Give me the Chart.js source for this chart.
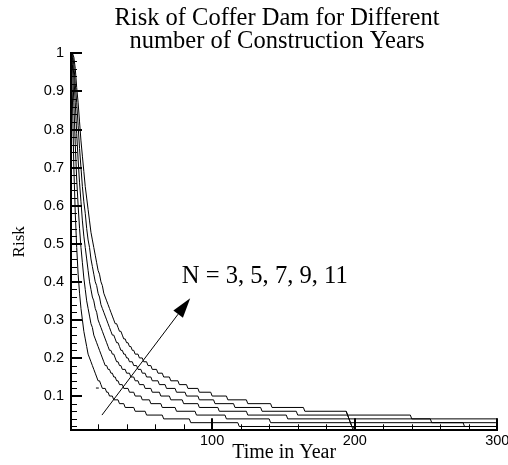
<!DOCTYPE html>
<html>
<head>
<meta charset="utf-8">
<title>Risk of Coffer Dam</title>
<script src="https://cdn.jsdelivr.net/npm/chart.js@4.4.1/dist/chart.umd.min.js"></script>
<style>
  html, body { margin: 0; padding: 0; background: #fff; overflow: hidden; }
  canvas { display: block; }
</style>
</head>
<body>
<canvas id="riskChart" width="554" height="465"></canvas>
<script>
// ====================
// DATA (risk is stepped in 0.01)
// each point = first year of a new risk level
// ====================
const yearsN3 = [1,2,3,4,5,6,7,8,9,10,11,12,13,14,15,16,17,18,19,20,22,23,26,28,31,35,39,46,54,66,85,119,200,300];
const riskN3  = [1,0.88,0.70,0.58,0.49,0.42,0.37,0.33,0.30,0.27,0.25,0.23,0.21,0.20,0.19,0.18,0.17,0.16,0.15,0.14,0.13,0.12,0.11,0.10,0.09,0.08,0.07,0.06,0.05,0.04,0.03,0.02,0.01,0.01];

const yearsN5 = [1,2,3,4,5,6,7,8,9,10,11,12,13,14,15,16,17,18,19,20,21,22,23,24,25,27,29,31,33,35,38,42,46,51,57,65,75,89,110,141,198,300];
const riskN5  = [1,0.97,0.87,0.76,0.67,0.60,0.54,0.49,0.45,0.41,0.38,0.35,0.33,0.31,0.29,0.28,0.26,0.25,0.24,0.23,0.22,0.21,0.20,0.19,0.18,0.17,0.16,0.15,0.14,0.13,0.12,0.11,0.10,0.09,0.08,0.07,0.06,0.05,0.04,0.03,0.02,0.02];

const yearsN7 = [1,2,3,4,5,6,7,8,9,10,11,12,13,14,15,16,17,18,19,20,21,22,23,24,25,26,27,28,30,32,33,35,37,40,43,46,49,53,58,64,71,80,91,105,125,153,197,277,300];
const riskN7  = [1,0.99,0.94,0.87,0.79,0.72,0.66,0.61,0.56,0.52,0.49,0.46,0.43,0.40,0.38,0.36,0.35,0.33,0.32,0.30,0.29,0.28,0.27,0.26,0.25,0.24,0.23,0.22,0.21,0.20,0.19,0.18,0.17,0.16,0.15,0.14,0.13,0.12,0.11,0.10,0.09,0.08,0.07,0.06,0.05,0.04,0.03,0.02,0.02];

const yearsN9 = [1,2,3,4,5,6,7,8,9,10,11,12,13,14,15,16,17,18,19,20,21,22,23,24,25,26,27,28,29,30,32,33,35,36,38,40,42,45,48,51,54,58,63,68,75,82,91,102,116,135,160,196,254,300];
const riskN9  = [1,1,0.97,0.92,0.87,0.81,0.75,0.70,0.65,0.61,0.58,0.54,0.51,0.49,0.46,0.44,0.42,0.40,0.39,0.37,0.36,0.34,0.33,0.32,0.31,0.30,0.29,0.28,0.27,0.26,0.25,0.24,0.23,0.22,0.21,0.20,0.19,0.18,0.17,0.16,0.15,0.14,0.13,0.12,0.11,0.10,0.09,0.08,0.07,0.06,0.05,0.04,0.03,0.03];

const yearsN11 = [1,2,3,4,5,6,7,8,9,10,11,12,13,14,15,16,17,18,19,20,21,22,23,24,25,26,27,28,29,30,31,32,34,35,37,38,40,42,44,46,49,52,55,58,62,66,71,77,83,91,100,111,125,142,165,195,240,300];
const riskN11  = [1,1,0.99,0.96,0.91,0.87,0.82,0.77,0.73,0.69,0.65,0.62,0.59,0.56,0.53,0.51,0.49,0.47,0.45,0.43,0.42,0.40,0.39,0.37,0.36,0.35,0.34,0.33,0.32,0.31,0.30,0.29,0.28,0.27,0.26,0.25,0.24,0.23,0.22,0.21,0.20,0.19,0.18,0.17,0.16,0.15,0.14,0.13,0.12,0.11,0.10,0.09,0.08,0.07,0.06,0.05,0.04,0.04];

// stray bits that are in the original plot
const dropYears = [194, 199];
const dropRisk = [0.06, 0.01];
const dashYears = [18.5, 20.5];
const dashRisk = [0.121, 0.121];

const xTickValues = [100, 200, 300];
const xTickLabels = ['100', '200', '300'];
const yTickValues = [0.1, 0.2, 0.3, 0.4, 0.5, 0.6, 0.7, 0.8, 0.9, 1];
const yTickLabels = ['0.1', '0.2', '0.3', '0.4', '0.5', '0.6', '0.7', '0.8', '0.9', '1'];

// arrow + note, in data units
const arrowStart = [22.7, 0.05];
const arrowEnd = [84.6, 0.357];
const noteText = 'N = 3, 5, 7, 9, 11';
const notePos = [78.7, 0.398];

// a level holds until the year before the next level starts
function toLevels(years, risk) {
  const pts = [];
  years.forEach((t, i) => {
    pts.push({ x: t, y: risk[i] });
    const next = years[i + 1];
    if (next !== undefined && next - 1 > t) pts.push({ x: next - 1, y: risk[i] });
  });
  return pts;
}

function toPoints(years, risk) {
  return years.map((t, i) => ({ x: t, y: risk[i] }));
}

const curves = [
  [yearsN3, riskN3],
  [yearsN5, riskN5],
  [yearsN7, riskN7],
  [yearsN9, riskN9],
  [yearsN11, riskN11]
];

const datasets = curves.map(([t, r]) => ({
  data: toLevels(t, r),
  borderColor: '#000',
  borderWidth: 1,
  pointRadius: 0,
  fill: false,
  clip: false
}));

[[dropYears, dropRisk], [dashYears, dashRisk]].forEach(([t, r]) => {
  datasets.push({
    data: toPoints(t, r),
    borderColor: '#000',
    borderWidth: 1,
    pointRadius: 0,
    fill: false,
    clip: false
  });
});

// ====================
// PLUGINS: inward ticks, arrow with note
// ====================
const inwardTicks = {
  id: 'inwardTicks',
  afterDatasetsDraw(chart) {
    const { ctx, chartArea: area, scales: { x, y } } = chart;
    const mark = (x1, y1, x2, y2, w) => {
      ctx.lineWidth = w;
      ctx.beginPath();
      ctx.moveTo(x1, y1);
      ctx.lineTo(x2, y2);
      ctx.stroke();
    };
    ctx.save();
    ctx.strokeStyle = '#000';
    for (let t = 20; t < 300; t += 20) {
      const px = Math.round(x.getPixelForValue(t)) + 0.5;
      mark(px, area.bottom, px, area.bottom - 6, 1);
    }
    xTickValues.forEach(t => {
      const px = Math.round(x.getPixelForValue(t));
      mark(px, area.bottom, px, area.bottom - 12, 2);
    });
    for (let i = 1; i < 50; i++) {
      const py = Math.round(y.getPixelForValue(i * 0.02)) + 0.5;
      mark(area.left, py, area.left + 6, py, 1);
    }
    yTickValues.forEach(v => {
      const py = Math.round(y.getPixelForValue(v));
      mark(area.left, py, area.left + 11, py, 2);
    });
    ctx.restore();
  }
};

const arrowNote = {
  id: 'arrowNote',
  afterDatasetsDraw(chart) {
    const { ctx, scales: { x, y } } = chart;
    const x0 = x.getPixelForValue(arrowStart[0]);
    const y0 = y.getPixelForValue(arrowStart[1]);
    const x1 = x.getPixelForValue(arrowEnd[0]);
    const y1 = y.getPixelForValue(arrowEnd[1]);
    const ang = Math.atan2(y1 - y0, x1 - x0);
    const headLen = 20, headHalf = 6;
    const bx = x1 - headLen * Math.cos(ang);
    const by = y1 - headLen * Math.sin(ang);

    ctx.save();
    ctx.strokeStyle = '#000';
    ctx.fillStyle = '#000';
    ctx.lineWidth = 1;
    ctx.beginPath();
    ctx.moveTo(x0, y0);
    ctx.lineTo(bx, by);
    ctx.stroke();

    ctx.beginPath();
    ctx.moveTo(x1, y1);
    ctx.lineTo(bx + headHalf * Math.sin(ang), by - headHalf * Math.cos(ang));
    ctx.lineTo(bx - headHalf * Math.sin(ang), by + headHalf * Math.cos(ang));
    ctx.closePath();
    ctx.fill();

    ctx.font = '24.6px "Liberation Serif", "Times New Roman", serif';
    ctx.textAlign = 'left';
    ctx.textBaseline = 'alphabetic';
    ctx.fillText(noteText, x.getPixelForValue(notePos[0]), y.getPixelForValue(notePos[1]));
    ctx.restore();
  }
};

// ====================
// CHART
// ====================
Chart.defaults.font.family = '"Liberation Sans", Arial, sans-serif';
Chart.defaults.color = '#000';

new Chart(document.getElementById('riskChart'), {
  type: 'line',
  data: { datasets },
  options: {
    responsive: false,
    animation: false,
    devicePixelRatio: 1,
    layout: { padding: 0 },
    plugins: {
      legend: { display: false },
      tooltip: { enabled: false },
      title: {
        display: true,
        text: ['Risk of Coffer Dam for Different', 'number of Construction Years'],
        color: '#000',
        font: { family: '"Liberation Serif", "Times New Roman", serif', size: 24.5, weight: 'normal', lineHeight: 0.946 },
        padding: { top: 7, bottom: 0 }
      }
    },
    scales: {
      x: {
        type: 'linear',
        min: 1,
        max: 300,
        afterBuildTicks: s => { s.ticks = xTickValues.map(v => ({ value: v })); },
        afterFit: s => { s.height = 34.7; },
        grid: { display: false, drawTicks: false },
        border: { display: true, color: '#000', width: 2 },
        ticks: {
          padding: 2,
          maxRotation: 0,
          autoSkip: false,
          font: { size: 14.5 },
          callback: (v, i) => xTickLabels[i]
        },
        title: {
          display: true,
          text: 'Time in Year',
          font: { family: '"Liberation Serif", "Times New Roman", serif', size: 20, lineHeight: 1.2 },
          padding: { top: 0, bottom: 0 }
        }
      },
      y: {
        type: 'linear',
        min: 0.01,
        max: 1,
        afterBuildTicks: s => { s.ticks = yTickValues.map(v => ({ value: v })); },
        afterFit: s => { s.width = 71; },
        grid: { display: false, drawTicks: false },
        border: { display: true, color: '#000', width: 2 },
        ticks: {
          padding: 7,
          autoSkip: false,
          font: { size: 14.5 },
          callback: (v, i) => yTickLabels[i]
        },
        title: {
          display: true,
          text: 'Risk',
          font: { family: '"Liberation Serif", "Times New Roman", serif', size: 17, lineHeight: 1 },
          padding: { top: 10.8, bottom: 0 }
        }
      },
      // empty box on the right so the title centre lands where it is in the original
      y2: {
        type: 'linear',
        position: 'right',
        display: true,
        grid: { display: false, drawTicks: false },
        border: { display: false },
        ticks: { display: false },
        afterFit: s => { s.width = 56.7; }
      }
    }
  },
  plugins: [inwardTicks, arrowNote]
});
</script>
</body>
</html>
